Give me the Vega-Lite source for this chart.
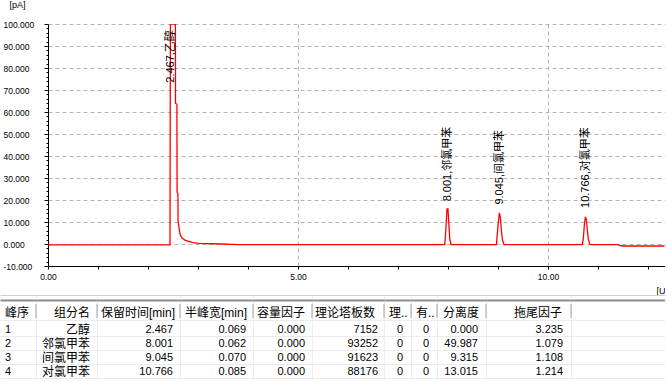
{
  "$schema": "https://vega.github.io/schema/vega-lite/v6.json",
  "padding": 0,
  "background": "white",
  "spacing": 0,
  "config": {"view": {"stroke": null}},
  "datasets": {
    "signal": [
      {"t": 0, "v": -0.4}, {"t": 2.44, "v": -0.4}, {"t": 2.448, "v": 100}, {"t": 2.548, "v": 100},
      {"t": 2.55, "v": 64}, {"t": 2.578, "v": 63.5}, {"t": 2.582, "v": 23.5}, {"t": 2.598, "v": 23},
      {"t": 2.602, "v": 10.3}, {"t": 2.626, "v": 6.5}, {"t": 2.646, "v": 4.2}, {"t": 2.68, "v": 2.7},
      {"t": 2.75, "v": 1.6}, {"t": 2.88, "v": 0.7}, {"t": 3.01, "v": 0.3}, {"t": 3.48, "v": 0},
      {"t": 3.81, "v": -0.3}, {"t": 7.934, "v": -0.3}, {"t": 7.948, "v": 3.5}, {"t": 7.968, "v": 11},
      {"t": 7.98, "v": 16}, {"t": 8.0, "v": 16}, {"t": 8.008, "v": 12.5}, {"t": 8.02, "v": 8},
      {"t": 8.034, "v": 2.7}, {"t": 8.06, "v": -0.3}, {"t": 8.968, "v": -0.3}, {"t": 8.98, "v": 3},
      {"t": 9.008, "v": 10}, {"t": 9.028, "v": 14.1}, {"t": 9.048, "v": 12}, {"t": 9.068, "v": 6},
      {"t": 9.088, "v": 2}, {"t": 9.12, "v": -0.3}, {"t": 10.688, "v": -0.3}, {"t": 10.708, "v": 3},
      {"t": 10.728, "v": 9}, {"t": 10.748, "v": 12.3}, {"t": 10.768, "v": 11}, {"t": 10.788, "v": 6},
      {"t": 10.808, "v": 2}, {"t": 10.84, "v": -0.3}, {"t": 11.4, "v": -0.3}, {"t": 11.43, "v": -0.6},
      {"t": 11.5, "v": -0.9}, {"t": 12.33, "v": -0.9}
    ],
    "peaks": [
      {"rt": 2.467, "label": "2.467,乙醇", "ly": 73.3},
      {"rt": 8.001, "label": "8.001,邻氯甲苯", "ly": 19.4},
      {"rt": 9.045, "label": "9.045,间氯甲苯", "ly": 17.9},
      {"rt": 10.766, "label": "10.766,对氯甲苯", "ly": 16.4}
    ],
    "hdr": [
      {"id": "峰序", "name": "组分名", "rt": "保留时间[min]", "w": "半峰宽[min]", "k": "容量因子", "n": "理论塔板数", "a": "理..", "b": "有..", "res": "分离度", "tf": "拖尾因子"}
    ],
    "tbl": [
      {"row": 1, "id": "1", "name": "乙醇", "rt": "2.467", "w": "0.069", "k": "0.000", "n": "7152", "a": "0", "b": "0", "res": "0.000", "tf": "3.235"},
      {"row": 2, "id": "2", "name": "邻氯甲苯", "rt": "8.001", "w": "0.062", "k": "0.000", "n": "93252", "a": "0", "b": "0", "res": "49.987", "tf": "1.079"},
      {"row": 3, "id": "3", "name": "间氯甲苯", "rt": "9.045", "w": "0.070", "k": "0.000", "n": "91623", "a": "0", "b": "0", "res": "9.315", "tf": "1.108"},
      {"row": 4, "id": "4", "name": "对氯甲苯", "rt": "10.766", "w": "0.085", "k": "0.000", "n": "88176", "a": "0", "b": "0", "res": "13.015", "tf": "1.214"}
    ]
  },
  "vconcat": [
    {
      "spacing": 0,
      "hconcat": [
        {"width": 3, "height": 1, "view": {"fill": "white", "stroke": null}, "data": {"values": []}, "mark": "point"},
        {
          "width": 617, "height": 242,
          "layer": [
            {
              "data": {"name": "signal"},
              "mark": {"type": "line", "color": "#ff0000", "strokeWidth": 1.3, "clip": true},
              "encoding": {
                "x": {"field": "t", "type": "quantitative", "scale": {"domain": [0, 12.34], "nice": false, "zero": false},
                  "axis": {"values": [0,1,2,3,4,5,6,7,8,9,10,11,12], "tickCount": 100, "labelExpr": "datum.value % 5 === 0 ? format(datum.value, '.2f') : ''",
                    "tickSize": 3, "tickColor": "#000", "domainColor": "#000", "labelFont": "Liberation Sans", "labelFontSize": 8.5, "labelColor": "#000",
                    "labelPadding": 3, "labelFlush": false, "labelOverlap": false,
                    "grid": true, "gridColor": "#b4b4b4", "gridDash": [4, 3],
                    "gridOpacity": {"condition": {"test": "datum.value === 5 || datum.value === 10", "value": 1}, "value": 0},
                    "title": "[U", "titleFont": "Liberation Sans", "titleFontSize": 9, "titleFontWeight": "normal", "titleColor": "#000",
                    "titleAlign": "right", "titleX": 617, "titleY": 20, "titleBaseline": "top"}},
                "y": {"field": "v", "type": "quantitative", "scale": {"domain": [-10, 100], "nice": false, "zero": false},
                  "axis": {"values": [-10,-8,-6,-4,-2,0,2,4,6,8,10,12,14,16,18,20,22,24,26,28,30,32,34,36,38,40,42,44,46,48,50,52,54,56,58,60,62,64,66,68,70,72,74,76,78,80,82,84,86,88,90,92,94,96,98,100],
                    "tickCount": 200,
                    "labelExpr": "datum.value % 10 === 0 ? (datum.value < 0 ? '-' + format(-datum.value, '.3f') : format(datum.value, '.3f')) : ''",
                    "tickSize": {"condition": {"test": "datum.value % 10 === 0", "value": 4}, "value": 2},
                    "tickColor": "#000", "domainColor": "#000",
                    "labelAlign": "left", "labelBaseline": "middle", "labelPadding": 41, "labelFont": "Liberation Sans", "labelFontSize": 8.5, "labelColor": "#000",
                    "labelFlush": false, "labelOverlap": false,
                    "grid": true, "gridColor": "#b4b4b4", "gridDash": [4, 3],
                    "gridOpacity": {"condition": {"test": "datum.value % 10 === 0 && datum.value > -10", "value": 1}, "value": 0},
                    "title": "[pA]", "titleAngle": 0, "titleAlign": "left", "titleBaseline": "top", "titleX": -39, "titleY": -24,
                    "titleFont": "Liberation Sans", "titleFontSize": 9, "titleFontWeight": "normal", "titleColor": "#000"}}
              }
            },
            {
              "data": {"name": "peaks"},
              "mark": {"type": "text", "angle": 270, "align": "left", "baseline": "middle", "font": "Liberation Sans, Noto Sans CJK SC", "fontSize": 11, "color": "#000"},
              "encoding": {
                "x": {"field": "rt", "type": "quantitative", "title": "[U", "scale": {"domain": [0, 12.34], "nice": false, "zero": false}},
                "y": {"field": "ly", "type": "quantitative", "title": "[pA]", "scale": {"domain": [-10, 100], "nice": false, "zero": false}},
                "text": {"field": "label"}
              }
            }
          ]
        }
      ]
    },
    {
      "bounds": "flush",
      "spacing": 0,
      "hconcat": [
        {"width": 36, "height": 85, "layer": [
          {"data": {"name": "hdr"}, "mark": {"type": "text", "align": "left", "baseline": "middle", "dx": 5, "dy": -2, "font": "Liberation Sans, Noto Sans CJK SC", "fontSize": 12, "color": "#000"},
           "encoding": {"x": {"datum": 0, "type": "quantitative", "scale": {"domain": [0, 1], "nice": false, "zero": false}},
             "y": {"datum": 0, "type": "quantitative", "scale": {"domain": [-1.4286, 4.643], "reverse": true, "nice": false, "zero": false}},
             "text": {"field": "id"}}},
          {"data": {"name": "tbl"}, "mark": {"type": "text", "align": "left", "baseline": "middle", "dx": 5, "dy": 1, "font": "Liberation Sans, Noto Sans CJK SC", "fontSize": 11, "color": "#000"},
           "encoding": {"x": {"datum": 0, "type": "quantitative", "scale": {"domain": [0, 1], "nice": false, "zero": false},
               "axis": {"values": [1], "tickCount": 100, "labels": false, "ticks": false, "domain": false, "title": null, "grid": true, "gridColor": "#eeeeee"}},
             "y": {"field": "row", "type": "quantitative", "scale": {"domain": [-1.4286, 4.643], "reverse": true, "nice": false, "zero": false},
               "axis": {"values": [-1.4286, -1.071, 0.357, 1.5, 2.5, 3.5, 4.5], "tickCount": 100, "labels": false, "ticks": false, "domain": false, "title": null, "grid": true,
                 "gridColor": {"condition": [{"test": "datum.value < -1.3", "value": "#d0d0d0"}, {"test": "datum.value < -1", "value": "#8c8c8c"}], "value": "#ebebeb"},
                 "gridWidth": {"condition": {"test": "datum.value > -1.3 && datum.value < -1", "value": 2}, "value": 1}}},
             "text": {"field": "id"}}},
          {"data": {"name": "hdr"}, "mark": {"type": "rule", "color": "#a0a0a0"},
           "encoding": {"x": {"datum": 1, "type": "quantitative", "scale": {"domain": [0, 1], "nice": false, "zero": false}},
             "y": {"datum": -0.786, "type": "quantitative", "scale": {"domain": [-1.4286, 4.643], "reverse": true, "nice": false, "zero": false}},
             "y2": {"datum": 0.214}}}
        ]},
        {"width": 61, "height": 85, "layer": [
          {"data": {"name": "hdr"}, "mark": {"type": "text", "align": "right", "baseline": "middle", "dx": -7, "dy": -2, "font": "Liberation Sans, Noto Sans CJK SC", "fontSize": 12, "color": "#000"},
           "encoding": {"x": {"datum": 1, "type": "quantitative", "scale": {"domain": [0, 1], "nice": false, "zero": false}},
             "y": {"datum": 0, "type": "quantitative", "scale": {"domain": [-1.4286, 4.643], "reverse": true, "nice": false, "zero": false}},
             "text": {"field": "name"}}},
          {"data": {"name": "tbl"}, "mark": {"type": "text", "align": "right", "baseline": "middle", "dx": -7, "dy": 1, "font": "Liberation Sans, Noto Sans CJK SC", "fontSize": 12, "color": "#000"},
           "encoding": {"x": {"datum": 1, "type": "quantitative", "scale": {"domain": [0, 1], "nice": false, "zero": false},
               "axis": {"values": [1], "tickCount": 100, "labels": false, "ticks": false, "domain": false, "title": null, "grid": true, "gridColor": "#eeeeee"}},
             "y": {"field": "row", "type": "quantitative", "scale": {"domain": [-1.4286, 4.643], "reverse": true, "nice": false, "zero": false},
               "axis": {"values": [-1.4286, -1.071, 0.357, 1.5, 2.5, 3.5, 4.5], "tickCount": 100, "labels": false, "ticks": false, "domain": false, "title": null, "grid": true,
                 "gridColor": {"condition": [{"test": "datum.value < -1.3", "value": "#d0d0d0"}, {"test": "datum.value < -1", "value": "#8c8c8c"}], "value": "#ebebeb"},
                 "gridWidth": {"condition": {"test": "datum.value > -1.3 && datum.value < -1", "value": 2}, "value": 1}}},
             "text": {"field": "name"}}},
          {"data": {"name": "hdr"}, "mark": {"type": "rule", "color": "#a0a0a0"},
           "encoding": {"x": {"datum": 1, "type": "quantitative", "scale": {"domain": [0, 1], "nice": false, "zero": false}},
             "y": {"datum": -0.786, "type": "quantitative", "scale": {"domain": [-1.4286, 4.643], "reverse": true, "nice": false, "zero": false}},
             "y2": {"datum": 0.214}}}
        ]},
        {"width": 83, "height": 85, "layer": [
          {"data": {"name": "hdr"}, "mark": {"type": "text", "align": "left", "baseline": "middle", "dx": 4, "dy": -2, "font": "Liberation Sans, Noto Sans CJK SC", "fontSize": 12, "color": "#000"},
           "encoding": {"x": {"datum": 0, "type": "quantitative", "scale": {"domain": [0, 1], "nice": false, "zero": false}},
             "y": {"datum": 0, "type": "quantitative", "scale": {"domain": [-1.4286, 4.643], "reverse": true, "nice": false, "zero": false}},
             "text": {"field": "rt"}}},
          {"data": {"name": "tbl"}, "mark": {"type": "text", "align": "right", "baseline": "middle", "dx": -7, "dy": 1, "font": "Liberation Sans, Noto Sans CJK SC", "fontSize": 11, "color": "#000"},
           "encoding": {"x": {"datum": 1, "type": "quantitative", "scale": {"domain": [0, 1], "nice": false, "zero": false},
               "axis": {"values": [1], "tickCount": 100, "labels": false, "ticks": false, "domain": false, "title": null, "grid": true, "gridColor": "#eeeeee"}},
             "y": {"field": "row", "type": "quantitative", "scale": {"domain": [-1.4286, 4.643], "reverse": true, "nice": false, "zero": false},
               "axis": {"values": [-1.4286, -1.071, 0.357, 1.5, 2.5, 3.5, 4.5], "tickCount": 100, "labels": false, "ticks": false, "domain": false, "title": null, "grid": true,
                 "gridColor": {"condition": [{"test": "datum.value < -1.3", "value": "#d0d0d0"}, {"test": "datum.value < -1", "value": "#8c8c8c"}], "value": "#ebebeb"},
                 "gridWidth": {"condition": {"test": "datum.value > -1.3 && datum.value < -1", "value": 2}, "value": 1}}},
             "text": {"field": "rt"}}},
          {"data": {"name": "hdr"}, "mark": {"type": "rule", "color": "#a0a0a0"},
           "encoding": {"x": {"datum": 1, "type": "quantitative", "scale": {"domain": [0, 1], "nice": false, "zero": false}},
             "y": {"datum": -0.786, "type": "quantitative", "scale": {"domain": [-1.4286, 4.643], "reverse": true, "nice": false, "zero": false}},
             "y2": {"datum": 0.214}}}
        ]},
        {"width": 73, "height": 85, "layer": [
          {"data": {"name": "hdr"}, "mark": {"type": "text", "align": "left", "baseline": "middle", "dx": 5, "dy": -2, "font": "Liberation Sans, Noto Sans CJK SC", "fontSize": 12, "color": "#000"},
           "encoding": {"x": {"datum": 0, "type": "quantitative", "scale": {"domain": [0, 1], "nice": false, "zero": false}},
             "y": {"datum": 0, "type": "quantitative", "scale": {"domain": [-1.4286, 4.643], "reverse": true, "nice": false, "zero": false}},
             "text": {"field": "w"}}},
          {"data": {"name": "tbl"}, "mark": {"type": "text", "align": "right", "baseline": "middle", "dx": -7, "dy": 1, "font": "Liberation Sans, Noto Sans CJK SC", "fontSize": 11, "color": "#000"},
           "encoding": {"x": {"datum": 1, "type": "quantitative", "scale": {"domain": [0, 1], "nice": false, "zero": false},
               "axis": {"values": [1], "tickCount": 100, "labels": false, "ticks": false, "domain": false, "title": null, "grid": true, "gridColor": "#eeeeee"}},
             "y": {"field": "row", "type": "quantitative", "scale": {"domain": [-1.4286, 4.643], "reverse": true, "nice": false, "zero": false},
               "axis": {"values": [-1.4286, -1.071, 0.357, 1.5, 2.5, 3.5, 4.5], "tickCount": 100, "labels": false, "ticks": false, "domain": false, "title": null, "grid": true,
                 "gridColor": {"condition": [{"test": "datum.value < -1.3", "value": "#d0d0d0"}, {"test": "datum.value < -1", "value": "#8c8c8c"}], "value": "#ebebeb"},
                 "gridWidth": {"condition": {"test": "datum.value > -1.3 && datum.value < -1", "value": 2}, "value": 1}}},
             "text": {"field": "w"}}},
          {"data": {"name": "hdr"}, "mark": {"type": "rule", "color": "#a0a0a0"},
           "encoding": {"x": {"datum": 1, "type": "quantitative", "scale": {"domain": [0, 1], "nice": false, "zero": false}},
             "y": {"datum": -0.786, "type": "quantitative", "scale": {"domain": [-1.4286, 4.643], "reverse": true, "nice": false, "zero": false}},
             "y2": {"datum": 0.214}}}
        ]},
        {"width": 59, "height": 85, "layer": [
          {"data": {"name": "hdr"}, "mark": {"type": "text", "align": "left", "baseline": "middle", "dx": 4, "dy": -2, "font": "Liberation Sans, Noto Sans CJK SC", "fontSize": 12, "color": "#000"},
           "encoding": {"x": {"datum": 0, "type": "quantitative", "scale": {"domain": [0, 1], "nice": false, "zero": false}},
             "y": {"datum": 0, "type": "quantitative", "scale": {"domain": [-1.4286, 4.643], "reverse": true, "nice": false, "zero": false}},
             "text": {"field": "k"}}},
          {"data": {"name": "tbl"}, "mark": {"type": "text", "align": "right", "baseline": "middle", "dx": -7, "dy": 1, "font": "Liberation Sans, Noto Sans CJK SC", "fontSize": 11, "color": "#000"},
           "encoding": {"x": {"datum": 1, "type": "quantitative", "scale": {"domain": [0, 1], "nice": false, "zero": false},
               "axis": {"values": [1], "tickCount": 100, "labels": false, "ticks": false, "domain": false, "title": null, "grid": true, "gridColor": "#eeeeee"}},
             "y": {"field": "row", "type": "quantitative", "scale": {"domain": [-1.4286, 4.643], "reverse": true, "nice": false, "zero": false},
               "axis": {"values": [-1.4286, -1.071, 0.357, 1.5, 2.5, 3.5, 4.5], "tickCount": 100, "labels": false, "ticks": false, "domain": false, "title": null, "grid": true,
                 "gridColor": {"condition": [{"test": "datum.value < -1.3", "value": "#d0d0d0"}, {"test": "datum.value < -1", "value": "#8c8c8c"}], "value": "#ebebeb"},
                 "gridWidth": {"condition": {"test": "datum.value > -1.3 && datum.value < -1", "value": 2}, "value": 1}}},
             "text": {"field": "k"}}},
          {"data": {"name": "hdr"}, "mark": {"type": "rule", "color": "#a0a0a0"},
           "encoding": {"x": {"datum": 1, "type": "quantitative", "scale": {"domain": [0, 1], "nice": false, "zero": false}},
             "y": {"datum": -0.786, "type": "quantitative", "scale": {"domain": [-1.4286, 4.643], "reverse": true, "nice": false, "zero": false}},
             "y2": {"datum": 0.214}}}
        ]},
        {"width": 72, "height": 85, "layer": [
          {"data": {"name": "hdr"}, "mark": {"type": "text", "align": "left", "baseline": "middle", "dx": 3, "dy": -2, "font": "Liberation Sans, Noto Sans CJK SC", "fontSize": 12, "color": "#000"},
           "encoding": {"x": {"datum": 0, "type": "quantitative", "scale": {"domain": [0, 1], "nice": false, "zero": false}},
             "y": {"datum": 0, "type": "quantitative", "scale": {"domain": [-1.4286, 4.643], "reverse": true, "nice": false, "zero": false}},
             "text": {"field": "n"}}},
          {"data": {"name": "tbl"}, "mark": {"type": "text", "align": "right", "baseline": "middle", "dx": -6, "dy": 1, "font": "Liberation Sans, Noto Sans CJK SC", "fontSize": 11, "color": "#000"},
           "encoding": {"x": {"datum": 1, "type": "quantitative", "scale": {"domain": [0, 1], "nice": false, "zero": false},
               "axis": {"values": [1], "tickCount": 100, "labels": false, "ticks": false, "domain": false, "title": null, "grid": true, "gridColor": "#eeeeee"}},
             "y": {"field": "row", "type": "quantitative", "scale": {"domain": [-1.4286, 4.643], "reverse": true, "nice": false, "zero": false},
               "axis": {"values": [-1.4286, -1.071, 0.357, 1.5, 2.5, 3.5, 4.5], "tickCount": 100, "labels": false, "ticks": false, "domain": false, "title": null, "grid": true,
                 "gridColor": {"condition": [{"test": "datum.value < -1.3", "value": "#d0d0d0"}, {"test": "datum.value < -1", "value": "#8c8c8c"}], "value": "#ebebeb"},
                 "gridWidth": {"condition": {"test": "datum.value > -1.3 && datum.value < -1", "value": 2}, "value": 1}}},
             "text": {"field": "n"}}},
          {"data": {"name": "hdr"}, "mark": {"type": "rule", "color": "#a0a0a0"},
           "encoding": {"x": {"datum": 1, "type": "quantitative", "scale": {"domain": [0, 1], "nice": false, "zero": false}},
             "y": {"datum": -0.786, "type": "quantitative", "scale": {"domain": [-1.4286, 4.643], "reverse": true, "nice": false, "zero": false}},
             "y2": {"datum": 0.214}}}
        ]},
        {"width": 27, "height": 85, "layer": [
          {"data": {"name": "hdr"}, "mark": {"type": "text", "align": "left", "baseline": "middle", "dx": 5, "dy": -2, "font": "Liberation Sans, Noto Sans CJK SC", "fontSize": 12, "color": "#000"},
           "encoding": {"x": {"datum": 0, "type": "quantitative", "scale": {"domain": [0, 1], "nice": false, "zero": false}},
             "y": {"datum": 0, "type": "quantitative", "scale": {"domain": [-1.4286, 4.643], "reverse": true, "nice": false, "zero": false}},
             "text": {"field": "a"}}},
          {"data": {"name": "tbl"}, "mark": {"type": "text", "align": "right", "baseline": "middle", "dx": -8, "dy": 1, "font": "Liberation Sans, Noto Sans CJK SC", "fontSize": 11, "color": "#000"},
           "encoding": {"x": {"datum": 1, "type": "quantitative", "scale": {"domain": [0, 1], "nice": false, "zero": false},
               "axis": {"values": [1], "tickCount": 100, "labels": false, "ticks": false, "domain": false, "title": null, "grid": true, "gridColor": "#eeeeee"}},
             "y": {"field": "row", "type": "quantitative", "scale": {"domain": [-1.4286, 4.643], "reverse": true, "nice": false, "zero": false},
               "axis": {"values": [-1.4286, -1.071, 0.357, 1.5, 2.5, 3.5, 4.5], "tickCount": 100, "labels": false, "ticks": false, "domain": false, "title": null, "grid": true,
                 "gridColor": {"condition": [{"test": "datum.value < -1.3", "value": "#d0d0d0"}, {"test": "datum.value < -1", "value": "#8c8c8c"}], "value": "#ebebeb"},
                 "gridWidth": {"condition": {"test": "datum.value > -1.3 && datum.value < -1", "value": 2}, "value": 1}}},
             "text": {"field": "a"}}},
          {"data": {"name": "hdr"}, "mark": {"type": "rule", "color": "#a0a0a0"},
           "encoding": {"x": {"datum": 1, "type": "quantitative", "scale": {"domain": [0, 1], "nice": false, "zero": false}},
             "y": {"datum": -0.786, "type": "quantitative", "scale": {"domain": [-1.4286, 4.643], "reverse": true, "nice": false, "zero": false}},
             "y2": {"datum": 0.214}}}
        ]},
        {"width": 26, "height": 85, "layer": [
          {"data": {"name": "hdr"}, "mark": {"type": "text", "align": "left", "baseline": "middle", "dx": 5, "dy": -2, "font": "Liberation Sans, Noto Sans CJK SC", "fontSize": 12, "color": "#000"},
           "encoding": {"x": {"datum": 0, "type": "quantitative", "scale": {"domain": [0, 1], "nice": false, "zero": false}},
             "y": {"datum": 0, "type": "quantitative", "scale": {"domain": [-1.4286, 4.643], "reverse": true, "nice": false, "zero": false}},
             "text": {"field": "b"}}},
          {"data": {"name": "tbl"}, "mark": {"type": "text", "align": "right", "baseline": "middle", "dx": -8, "dy": 1, "font": "Liberation Sans, Noto Sans CJK SC", "fontSize": 11, "color": "#000"},
           "encoding": {"x": {"datum": 1, "type": "quantitative", "scale": {"domain": [0, 1], "nice": false, "zero": false},
               "axis": {"values": [1], "tickCount": 100, "labels": false, "ticks": false, "domain": false, "title": null, "grid": true, "gridColor": "#eeeeee"}},
             "y": {"field": "row", "type": "quantitative", "scale": {"domain": [-1.4286, 4.643], "reverse": true, "nice": false, "zero": false},
               "axis": {"values": [-1.4286, -1.071, 0.357, 1.5, 2.5, 3.5, 4.5], "tickCount": 100, "labels": false, "ticks": false, "domain": false, "title": null, "grid": true,
                 "gridColor": {"condition": [{"test": "datum.value < -1.3", "value": "#d0d0d0"}, {"test": "datum.value < -1", "value": "#8c8c8c"}], "value": "#ebebeb"},
                 "gridWidth": {"condition": {"test": "datum.value > -1.3 && datum.value < -1", "value": 2}, "value": 1}}},
             "text": {"field": "b"}}},
          {"data": {"name": "hdr"}, "mark": {"type": "rule", "color": "#a0a0a0"},
           "encoding": {"x": {"datum": 1, "type": "quantitative", "scale": {"domain": [0, 1], "nice": false, "zero": false}},
             "y": {"datum": -0.786, "type": "quantitative", "scale": {"domain": [-1.4286, 4.643], "reverse": true, "nice": false, "zero": false}},
             "y2": {"datum": 0.214}}}
        ]},
        {"width": 49, "height": 85, "layer": [
          {"data": {"name": "hdr"}, "mark": {"type": "text", "align": "left", "baseline": "middle", "dx": 6, "dy": -2, "font": "Liberation Sans, Noto Sans CJK SC", "fontSize": 12, "color": "#000"},
           "encoding": {"x": {"datum": 0, "type": "quantitative", "scale": {"domain": [0, 1], "nice": false, "zero": false}},
             "y": {"datum": 0, "type": "quantitative", "scale": {"domain": [-1.4286, 4.643], "reverse": true, "nice": false, "zero": false}},
             "text": {"field": "res"}}},
          {"data": {"name": "tbl"}, "mark": {"type": "text", "align": "right", "baseline": "middle", "dx": -8, "dy": 1, "font": "Liberation Sans, Noto Sans CJK SC", "fontSize": 11, "color": "#000"},
           "encoding": {"x": {"datum": 1, "type": "quantitative", "scale": {"domain": [0, 1], "nice": false, "zero": false},
               "axis": {"values": [1], "tickCount": 100, "labels": false, "ticks": false, "domain": false, "title": null, "grid": true, "gridColor": "#eeeeee"}},
             "y": {"field": "row", "type": "quantitative", "scale": {"domain": [-1.4286, 4.643], "reverse": true, "nice": false, "zero": false},
               "axis": {"values": [-1.4286, -1.071, 0.357, 1.5, 2.5, 3.5, 4.5], "tickCount": 100, "labels": false, "ticks": false, "domain": false, "title": null, "grid": true,
                 "gridColor": {"condition": [{"test": "datum.value < -1.3", "value": "#d0d0d0"}, {"test": "datum.value < -1", "value": "#8c8c8c"}], "value": "#ebebeb"},
                 "gridWidth": {"condition": {"test": "datum.value > -1.3 && datum.value < -1", "value": 2}, "value": 1}}},
             "text": {"field": "res"}}},
          {"data": {"name": "hdr"}, "mark": {"type": "rule", "color": "#a0a0a0"},
           "encoding": {"x": {"datum": 1, "type": "quantitative", "scale": {"domain": [0, 1], "nice": false, "zero": false}},
             "y": {"datum": -0.786, "type": "quantitative", "scale": {"domain": [-1.4286, 4.643], "reverse": true, "nice": false, "zero": false}},
             "y2": {"datum": 0.214}}}
        ]},
        {"width": 85, "height": 85, "layer": [
          {"data": {"name": "hdr"}, "mark": {"type": "text", "align": "right", "baseline": "middle", "dx": -9, "dy": -2, "font": "Liberation Sans, Noto Sans CJK SC", "fontSize": 12, "color": "#000"},
           "encoding": {"x": {"datum": 1, "type": "quantitative", "scale": {"domain": [0, 1], "nice": false, "zero": false}},
             "y": {"datum": 0, "type": "quantitative", "scale": {"domain": [-1.4286, 4.643], "reverse": true, "nice": false, "zero": false}},
             "text": {"field": "tf"}}},
          {"data": {"name": "tbl"}, "mark": {"type": "text", "align": "right", "baseline": "middle", "dx": -8, "dy": 1, "font": "Liberation Sans, Noto Sans CJK SC", "fontSize": 11, "color": "#000"},
           "encoding": {"x": {"datum": 1, "type": "quantitative", "scale": {"domain": [0, 1], "nice": false, "zero": false},
               "axis": {"values": [1], "tickCount": 100, "labels": false, "ticks": false, "domain": false, "title": null, "grid": true, "gridColor": "#eeeeee"}},
             "y": {"field": "row", "type": "quantitative", "scale": {"domain": [-1.4286, 4.643], "reverse": true, "nice": false, "zero": false},
               "axis": {"values": [-1.4286, -1.071, 0.357, 1.5, 2.5, 3.5, 4.5], "tickCount": 100, "labels": false, "ticks": false, "domain": false, "title": null, "grid": true,
                 "gridColor": {"condition": [{"test": "datum.value < -1.3", "value": "#d0d0d0"}, {"test": "datum.value < -1", "value": "#8c8c8c"}], "value": "#ebebeb"},
                 "gridWidth": {"condition": {"test": "datum.value > -1.3 && datum.value < -1", "value": 2}, "value": 1}}},
             "text": {"field": "tf"}}},
          {"data": {"name": "hdr"}, "mark": {"type": "rule", "color": "#a0a0a0"},
           "encoding": {"x": {"datum": 1, "type": "quantitative", "scale": {"domain": [0, 1], "nice": false, "zero": false}},
             "y": {"datum": -0.786, "type": "quantitative", "scale": {"domain": [-1.4286, 4.643], "reverse": true, "nice": false, "zero": false}},
             "y2": {"datum": 0.214}}}
        ]},
        {"width": 94, "height": 85, "data": {"name": "hdr"}, "mark": {"type": "rule", "opacity": 0},
         "encoding": {"y": {"datum": 0, "type": "quantitative", "scale": {"domain": [-1.4286, 4.643], "reverse": true, "nice": false, "zero": false},
           "axis": {"values": [-1.4286, -1.071, 0.357, 1.5, 2.5, 3.5, 4.5], "tickCount": 100, "labels": false, "ticks": false, "domain": false, "title": null, "grid": true,
             "gridColor": {"condition": [{"test": "datum.value < -1.3", "value": "#d0d0d0"}, {"test": "datum.value < -1", "value": "#8c8c8c"}], "value": "#ebebeb"},
             "gridWidth": {"condition": {"test": "datum.value > -1.3 && datum.value < -1", "value": 2}, "value": 1}}}}}
      ]
    }
  ]
}
